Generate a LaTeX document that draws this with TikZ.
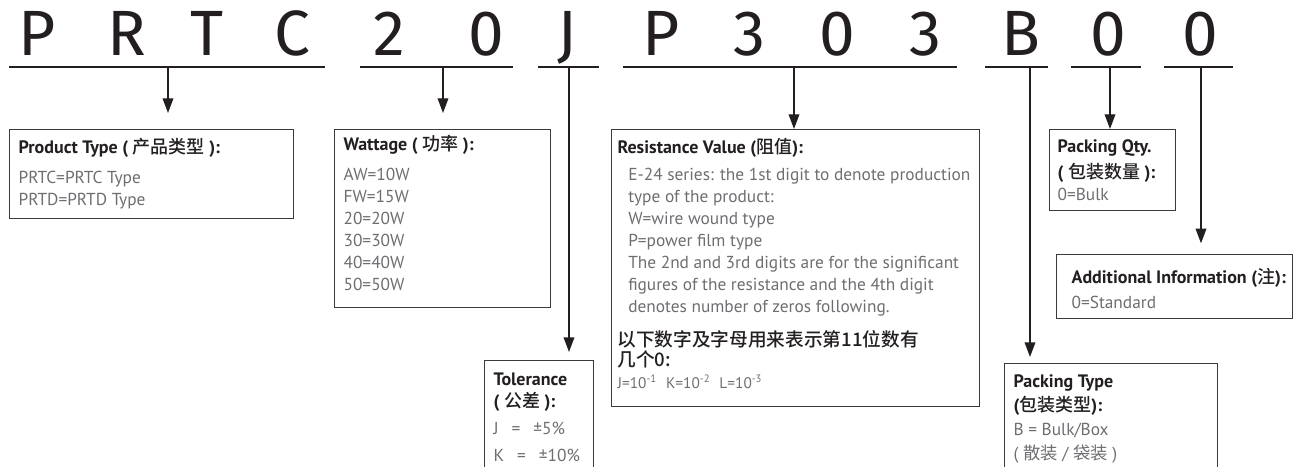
\documentclass[tikz,border=0pt]{standalone}
\usepackage{fontspec}
\setmainfont{PT Sans}
\newfontfamily\cjk{Noto Sans CJK SC}[BoldFont={Noto Sans CJK SC Medium}]
\newfontfamily\codefont{Fira Sans}
\usepackage{xcolor}
\usetikzlibrary{arrows.meta}

\definecolor{ink}{HTML}{231F20}
\definecolor{bodygray}{HTML}{6D6E71}
\definecolor{framegray}{HTML}{3A3A3A}

\newcommand{\zh}[1]{{\cjk #1}}
\newcommand{\ttl}[1]{{\color{ink}\fontsize{13.5}{16.5}\selectfont\bfseries #1}}
\newcommand{\ind}[1]{\hspace*{8pt}\mbox{#1}}

\begin{document}
\begin{tikzpicture}[
    x=0.75pt, y=-0.75pt,
    font=\fontsize{13}{16.5}\selectfont,
    letter/.style={anchor=base, inner sep=0pt, text=ink,
                   font=\codefont\fontsize{48}{48}\selectfont},
    uline/.style={draw=ink, line width=1.1pt},
    infobox/.style={draw=framegray, line width=0.9pt, anchor=north west,
                    inner ysep=0pt, text=bodygray},
    arr/.style={draw=ink, line width=1pt, -{Triangle[length=11pt, width=8pt]}}
  ]
  \useasboundingbox (0,0) rectangle (1296,467);

  % --- code letters ---
  \foreach \ch/\xx [count=\i] in {P/37, R/127, T/207, C/292, 2/389, 0/486, J/567,
      P/661, 3/749, 0/837, 3/925, B/1021, 0/1108, 0/1200}
    \node[letter] (ch\i) at (\xx,56) {\ch};

  % --- underlines ---
  \foreach \a/\b in {9/325, 360/513, 538/599, 623/957, 985/1048, 1071/1141, 1164/1233}
    \draw[uline] (\a,67) -- (\b,67);

  \coordinate (tprod) at (168,67);
  \coordinate (twatt) at (443,67);
  \coordinate (ttol)  at (569,67);
  \coordinate (tres)  at (794,67);
  \coordinate (tptype) at (1030,67);
  \coordinate (tpqty) at (1110,67);
  \coordinate (taddi) at (1201,67);

  % --- boxes ---
  \node[infobox, inner xsep=6.75pt] (prod) at (9,129)
    {\parbox[t][66.75pt][t]{199.5pt}{\rule{0pt}{18pt}\ttl{Product Type ( \zh{产品类型} ):}\\[6pt]
     PRTC=PRTC Type\\
     PRTD=PRTD Type}};

  \node[infobox, inner xsep=6.75pt] (watt) at (334,129)
    {\parbox[t][133.5pt][t]{148.5pt}{\rule{0pt}{15.75pt}\ttl{Wattage ( \zh{功率} ):}\\[6pt]
     AW=10W\\ FW=15W\\ 20=20W\\ 30=30W\\ 40=40W\\ 50=50W}};

  \node[infobox, inner xsep=6.75pt] (tol) at (484,360)
    {\parbox[t][90pt][t]{68.25pt}{\rule{0pt}{18.75pt}\ttl{Tolerance}\\
     \ttl{( \zh{公差} ):}\\[3.75pt]
     \mbox{J\hspace{0.75em}=\hspace{0.75em}±5\%}\\[3.75pt]
     \mbox{K\hspace{0.75em}=\hspace{0.75em}±10\%}}};

  \node[infobox, inner xsep=4.5pt] (res) at (611,129)
    {\parbox[t][207.75pt][t]{267pt}{\rule{0pt}{18pt}\ttl{Resistance Value (\zh{阻值}):}\\[3.75pt]
     \ind{E-24 series: the 1st digit to denote production}\\
     \ind{type of the product:}\\
     \ind{W=wire wound type}\\
     \ind{P=power film type}\\
     \ind{The 2nd and 3rd digits are for the significant}\\
     \ind{figures of the resistance and the 4th digit}\\
     \ind{denotes number of zeros following.}\\[9pt]
     {\color{ink}\fontsize{14}{15}\selectfont\cjk\bfseries 以下数字及字母用来表示第11位数有}\\[-1.5pt]
     {\color{ink}\fontsize{14}{15}\selectfont\cjk\bfseries 几个0:}\\
     {\fontsize{11.5}{12}\selectfont J=10\textsuperscript{-1}\hspace{0.6em}K=10\textsuperscript{-2}\hspace{0.6em}L=10\textsuperscript{-3}}}};

  \node[infobox, inner xsep=6pt] (pqty) at (1049,129)
    {\parbox[t][60.75pt][t]{82.5pt}{\rule{0pt}{17.25pt}\ttl{Packing Qty.}\\[3pt]
     \ttl{( \zh{包装数量} ):}\\
     0=Bulk}};

  \node[infobox, inner xsep=3pt] (addi) at (1056,254)
    {\parbox[t][48pt][t]{171pt}{\leftskip=8.25pt\rule{0pt}{21.75pt}\ttl{Additional Information (\zh{注}):}\\[2pt]
     0=Standard}};

  \node[infobox, inner xsep=6.75pt] (ptype) at (1004,363)
    {\parbox[t][87.75pt][t]{146.25pt}{\rule{0pt}{18pt}\ttl{Packing Type}\\[1.5pt]
     \ttl{(\zh{包装类型}):}\\[1.5pt]
     B = Bulk/Box\\[1.5pt]
     ( \zh{散装} / \zh{袋装} )}};

  % --- arrows ---
  \draw[arr, shorten >=12pt] (tprod) -- (tprod |- prod.north);
  \draw[arr, shorten >=12pt] (twatt) -- (twatt |- watt.north);
  \draw[arr, shorten >=6pt] (ttol) -- (ttol |- tol.north);
  \draw[arr] (tres) -- (tres |- res.north);
  \draw[arr, shorten >=4.5pt] (tptype) -- (tptype |- ptype.north);
  \draw[arr] (tpqty) -- (tpqty |- pqty.north);
  \draw[arr, shorten >=8pt] (taddi) -- (taddi |- addi.north);

\end{tikzpicture}
\end{document}
